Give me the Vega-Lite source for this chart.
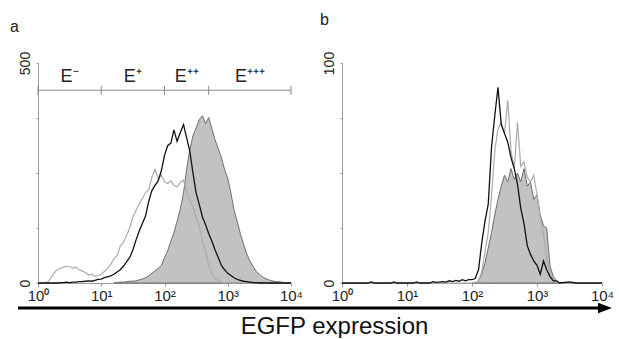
{
  "$schema": "https://vega.github.io/schema/vega-lite/v6.json",
  "background": "white",
  "padding": {"left": 10, "top": 12, "right": 0, "bottom": 0},
  "config": {
    "view": {"stroke": null},
    "font": "Liberation Sans",
    "axis": {"domainColor": "#9a9a9a", "tickColor": "#9a9a9a", "grid": false, "labelFont": "Liberation Sans", "labelFontSize": 15, "labelColor": "#222", "title": null}
  },
  "datasets": {
    "a_fill": [
      {"x":15.8,"n":0},{"x":17.8,"n":1},{"x":20,"n":2},{"x":22.4,"n":2},{"x":25.1,"n":3},{"x":28.2,"n":4},{"x":31.6,"n":4},{"x":35.5,"n":5},{"x":39.8,"n":7},{"x":44.7,"n":9},{"x":50.1,"n":12},{"x":56.2,"n":16},{"x":63.1,"n":22},{"x":70.8,"n":28},{"x":79.4,"n":33},{"x":89.1,"n":40},
      {"x":100,"n":58},{"x":112,"n":73},{"x":126,"n":95},{"x":141,"n":115},{"x":158,"n":140},{"x":178,"n":168},{"x":200,"n":205},{"x":224,"n":258},{"x":251,"n":302},{"x":282,"n":335},{"x":316,"n":352},{"x":355,"n":372},{"x":398,"n":380},{"x":447,"n":362},{"x":501,"n":376},{"x":562,"n":350},{"x":631,"n":325},{"x":708,"n":305},{"x":794,"n":285},{"x":891,"n":258},
      {"x":1000,"n":238},{"x":1120,"n":205},{"x":1260,"n":165},{"x":1410,"n":140},{"x":1580,"n":112},{"x":1780,"n":88},{"x":2000,"n":66},{"x":2240,"n":50},{"x":2510,"n":38},{"x":2820,"n":26},{"x":3160,"n":20},{"x":3550,"n":14},{"x":3980,"n":10},{"x":4470,"n":7},{"x":5010,"n":5},{"x":5620,"n":3},{"x":6310,"n":3},{"x":7080,"n":2},{"x":7940,"n":1},{"x":8910,"n":0},{"x":10000,"n":0}
    ],
    "a_light": [
      {"x":1,"n":0},{"x":1.12,"n":0},{"x":1.26,"n":0},{"x":1.41,"n":2},{"x":1.58,"n":10},{"x":1.78,"n":22},{"x":2,"n":30},{"x":2.24,"n":33},{"x":2.51,"n":36},{"x":2.82,"n":38},{"x":3.16,"n":37},{"x":3.55,"n":34},{"x":3.98,"n":36},{"x":4.47,"n":30},{"x":5.01,"n":27},{"x":5.62,"n":24},{"x":6.31,"n":18},{"x":7.08,"n":20},{"x":7.94,"n":15},{"x":8.91,"n":17},
      {"x":10,"n":20},{"x":11.2,"n":26},{"x":12.6,"n":34},{"x":14.1,"n":42},{"x":15.8,"n":55},{"x":17.8,"n":62},{"x":20,"n":84},{"x":22.4,"n":92},{"x":25.1,"n":108},{"x":28.2,"n":125},{"x":31.6,"n":150},{"x":35.5,"n":165},{"x":39.8,"n":180},{"x":44.7,"n":192},{"x":50.1,"n":205},{"x":56.2,"n":212},{"x":63.1,"n":240},{"x":70.8,"n":258},{"x":79.4,"n":238},{"x":89.1,"n":245},
      {"x":100,"n":230},{"x":112,"n":226},{"x":126,"n":232},{"x":141,"n":222},{"x":158,"n":218},{"x":178,"n":228},{"x":200,"n":234},{"x":224,"n":208},{"x":251,"n":190},{"x":282,"n":172},{"x":316,"n":150},{"x":355,"n":130},{"x":398,"n":95},{"x":447,"n":70},{"x":501,"n":40},{"x":562,"n":22},{"x":631,"n":10},{"x":708,"n":5},{"x":794,"n":2},{"x":891,"n":1},
      {"x":1000,"n":0},{"x":1580,"n":0},{"x":2510,"n":0},{"x":3980,"n":0},{"x":6310,"n":0},{"x":10000,"n":0}
    ],
    "a_black": [
      {"x":1,"n":0},{"x":1.26,"n":0},{"x":1.58,"n":0},{"x":2,"n":0},{"x":2.24,"n":1},{"x":2.51,"n":1},{"x":2.82,"n":2},{"x":3.16,"n":1},{"x":3.55,"n":2},{"x":3.98,"n":2},{"x":4.47,"n":3},{"x":5.01,"n":3},{"x":5.62,"n":4},{"x":6.31,"n":5},{"x":7.08,"n":4},{"x":7.94,"n":6},{"x":8.91,"n":8},
      {"x":10,"n":9},{"x":11.2,"n":12},{"x":12.6,"n":14},{"x":14.1,"n":16},{"x":15.8,"n":20},{"x":17.8,"n":25},{"x":20,"n":30},{"x":22.4,"n":38},{"x":25.1,"n":48},{"x":28.2,"n":58},{"x":31.6,"n":75},{"x":35.5,"n":98},{"x":39.8,"n":118},{"x":44.7,"n":135},{"x":50.1,"n":152},{"x":56.2,"n":185},{"x":63.1,"n":210},{"x":70.8,"n":222},{"x":79.4,"n":232},{"x":89.1,"n":255},
      {"x":100,"n":290},{"x":112,"n":312},{"x":126,"n":318},{"x":141,"n":348},{"x":158,"n":322},{"x":178,"n":342},{"x":200,"n":360},{"x":224,"n":330},{"x":251,"n":300},{"x":282,"n":250},{"x":316,"n":205},{"x":355,"n":178},{"x":398,"n":150},{"x":447,"n":132},{"x":501,"n":112},{"x":562,"n":95},{"x":631,"n":75},{"x":708,"n":58},{"x":794,"n":40},{"x":891,"n":30},
      {"x":1000,"n":22},{"x":1120,"n":17},{"x":1260,"n":12},{"x":1410,"n":8},{"x":1580,"n":6},{"x":1780,"n":4},{"x":2000,"n":3},{"x":2240,"n":2},{"x":2510,"n":1},{"x":2820,"n":1},{"x":3160,"n":0},{"x":5010,"n":0},{"x":10000,"n":0}
    ],
    "b_fill": [
      {"x":100,"n":0},{"x":112,"n":0},{"x":126,"n":1},{"x":141,"n":4},{"x":158,"n":9},{"x":178,"n":16},{"x":200,"n":23},{"x":224,"n":31},{"x":251,"n":38},{"x":282,"n":44},{"x":316,"n":49},{"x":355,"n":46},{"x":398,"n":52},{"x":447,"n":47},{"x":501,"n":50},{"x":562,"n":46},{"x":631,"n":52},{"x":708,"n":44},{"x":794,"n":46},{"x":891,"n":38},
      {"x":1000,"n":40},{"x":1120,"n":31},{"x":1260,"n":26},{"x":1410,"n":25},{"x":1580,"n":8},{"x":1780,"n":3},{"x":2000,"n":1},{"x":2240,"n":0}
    ],
    "b_light": [
      {"x":1,"n":0},{"x":10,"n":0},{"x":50.1,"n":0},{"x":100,"n":0},{"x":112,"n":0},{"x":126,"n":1},{"x":141,"n":5},{"x":158,"n":14},{"x":178,"n":23},{"x":200,"n":40},{"x":224,"n":60},{"x":251,"n":70},{"x":282,"n":73},{"x":316,"n":68},{"x":355,"n":83},{"x":398,"n":60},{"x":447,"n":52},{"x":501,"n":73},{"x":562,"n":53},{"x":631,"n":55},{"x":708,"n":48},{"x":794,"n":46},{"x":891,"n":49},
      {"x":1000,"n":40},{"x":1120,"n":30},{"x":1260,"n":22},{"x":1410,"n":11},{"x":1580,"n":5},{"x":1780,"n":2},{"x":2000,"n":1},{"x":2240,"n":0},{"x":10000,"n":0}
    ],
    "b_black": [
      {"x":1,"n":0},{"x":2.51,"n":0},{"x":2.82,"n":0.5},{"x":3.16,"n":0},{"x":5.62,"n":0},{"x":6.31,"n":0.5},{"x":7.08,"n":0},{"x":12.6,"n":0},{"x":14.1,"n":0.5},{"x":15.8,"n":0},{"x":22.4,"n":0},{"x":25.1,"n":0.6},{"x":28.2,"n":0.3},{"x":35.5,"n":0.6},{"x":39.8,"n":0.4},{"x":44.7,"n":1},{"x":50.1,"n":0.6},{"x":56.2,"n":1.2},{"x":63.1,"n":0.8},{"x":70.8,"n":1.5},{"x":79.4,"n":1},{"x":89.1,"n":1.5},
      {"x":100,"n":1.5},{"x":112,"n":2},{"x":126,"n":6},{"x":141,"n":18},{"x":158,"n":28},{"x":178,"n":36},{"x":200,"n":62},{"x":224,"n":76},{"x":251,"n":89},{"x":282,"n":72},{"x":316,"n":68},{"x":355,"n":64},{"x":398,"n":57},{"x":447,"n":52},{"x":501,"n":45},{"x":562,"n":34},{"x":631,"n":27},{"x":708,"n":17},{"x":794,"n":13},{"x":891,"n":10},
      {"x":1000,"n":8},{"x":1120,"n":4},{"x":1260,"n":10},{"x":1410,"n":6},{"x":1580,"n":3},{"x":1780,"n":1},{"x":2000,"n":1},{"x":2240,"n":0},{"x":3160,"n":0.5},{"x":3980,"n":0},{"x":10000,"n":0}
    ],
    "gate_line": [{"x":1,"x2":10000,"n":438}],
    "gate_ticks": [{"x":1,"n":428,"n2":448},{"x":10,"n":428,"n2":448},{"x":100,"n":428,"n2":448},{"x":500,"n":428,"n2":448},{"x":10000,"n":428,"n2":448}],
    "gate_labels": [{"x":3.16,"n":457,"label":"E⁻"},{"x":31.6,"n":457,"label":"E⁺"},{"x":224,"n":457,"label":"E⁺⁺"},{"x":2240,"n":457,"label":"E⁺⁺⁺"}],
    "arrow": [{"start":0,"end":0.99,"tip":1,"y":0}]
  },
  "vconcat": [
    {
      "hconcat": [
        {"width": 1, "height": 220, "data": {"values": []}, "mark": {"type": "rule"}, "encoding": {}},
        {
          "hconcat": [
            {
              "width": 253, "height": 220,
              "title": {"text": "a", "anchor": "start", "frame": "group", "dx": -28, "offset": 3, "baseline": "alphabetic", "fontSize": 16, "fontWeight": "normal", "font": "Liberation Sans", "color": "#222"},
              "layer": [
                {
                  "data": {"name": "a_fill"},
                  "mark": {"type": "area", "fill": "#c2c2c2", "stroke": "#6e6e6e", "strokeWidth": 1},
                  "encoding": {
                    "x": {"field": "x", "type": "quantitative", "scale": {"type": "log", "domain": [1, 10000], "nice": false},
                      "axis": {"values": [1, 10, 100, 1000, 10000], "labelExpr": "datum.value == 1 ? '10⁰' : datum.value == 10 ? '10¹' : datum.value == 100 ? '10²' : datum.value == 1000 ? '10³' : '10⁴'", "tickSize": 3, "labelPadding": 2, "labelDx": 3, "labelFlush": false, "labelOverlap": false, "labelBound": false}},
                    "y": {"field": "n", "type": "quantitative", "scale": {"domain": [0, 500], "nice": false},
                      "axis": {"values": [0, 125, 250, 375, 500], "labelExpr": "datum.value == 0 || datum.value == 500 ? datum.label : ''", "labelAngle": -90, "labelAlign": "center", "labelBaseline": "bottom", "labelFontSize": 14, "tickSize": 2, "labelPadding": 4, "labelFlush": false, "labelOverlap": false, "labelBound": false}}
                  }
                },
                {
                  "data": {"name": "a_light"},
                  "mark": {"type": "line", "color": "#ababab", "strokeWidth": 1.2},
                  "encoding": {"x": {"field": "x", "type": "quantitative"}, "y": {"field": "n", "type": "quantitative"}}
                },
                {
                  "data": {"name": "a_black"},
                  "mark": {"type": "line", "color": "#111", "strokeWidth": 1.3},
                  "encoding": {"x": {"field": "x", "type": "quantitative"}, "y": {"field": "n", "type": "quantitative"}}
                },
                {
                  "data": {"name": "gate_line"},
                  "mark": {"type": "rule", "color": "#8a8a8a", "strokeWidth": 1},
                  "encoding": {"x": {"field": "x", "type": "quantitative"}, "x2": {"field": "x2"}, "y": {"field": "n", "type": "quantitative"}}
                },
                {
                  "data": {"name": "gate_ticks"},
                  "mark": {"type": "rule", "color": "#8a8a8a", "strokeWidth": 1},
                  "encoding": {"x": {"field": "x", "type": "quantitative"}, "y": {"field": "n", "type": "quantitative"}, "y2": {"field": "n2"}}
                },
                {
                  "data": {"name": "gate_labels"},
                  "mark": {"type": "text", "fontSize": 18, "font": "Liberation Sans", "color": "#222", "align": "center", "baseline": "alphabetic"},
                  "encoding": {"x": {"field": "x", "type": "quantitative"}, "y": {"field": "n", "type": "quantitative"}, "text": {"field": "label"}}
                }
              ]
            },
            {
              "width": 260, "height": 220,
              "title": {"text": "b", "anchor": "start", "frame": "group", "dx": -22, "offset": 10, "baseline": "alphabetic", "fontSize": 16, "fontWeight": "normal", "font": "Liberation Sans", "color": "#222"},
              "layer": [
                {
                  "data": {"name": "b_fill"},
                  "mark": {"type": "area", "fill": "#c2c2c2", "stroke": "#6e6e6e", "strokeWidth": 1},
                  "encoding": {
                    "x": {"field": "x", "type": "quantitative", "scale": {"type": "log", "domain": [1, 10000], "nice": false},
                      "axis": {"values": [1, 10, 100, 1000, 10000], "labelExpr": "datum.value == 1 ? '10⁰' : datum.value == 10 ? '10¹' : datum.value == 100 ? '10²' : datum.value == 1000 ? '10³' : '10⁴'", "tickSize": 3, "labelPadding": 2, "labelDx": 3, "labelFlush": false, "labelOverlap": false, "labelBound": false}},
                    "y": {"field": "n", "type": "quantitative", "scale": {"domain": [0, 100], "nice": false},
                      "axis": {"values": [0, 25, 50, 75, 100], "labelExpr": "datum.value == 0 || datum.value == 100 ? datum.label : ''", "labelAngle": -90, "labelAlign": "center", "labelBaseline": "bottom", "labelFontSize": 14, "tickSize": 2, "labelPadding": 4, "labelFlush": false, "labelOverlap": false, "labelBound": false}}
                  }
                },
                {
                  "data": {"name": "b_light"},
                  "mark": {"type": "line", "color": "#ababab", "strokeWidth": 1.2},
                  "encoding": {"x": {"field": "x", "type": "quantitative"}, "y": {"field": "n", "type": "quantitative"}}
                },
                {
                  "data": {"name": "b_black"},
                  "mark": {"type": "line", "color": "#111", "strokeWidth": 1.3},
                  "encoding": {"x": {"field": "x", "type": "quantitative"}, "y": {"field": "n", "type": "quantitative"}}
                }
              ]
            }
          ],
          "spacing": 51,
          "bounds": "flush"
        }
      ],
      "spacing": 19,
      "bounds": "flush"
    },
    {
      "width": 594, "height": 10,
      "data": {"name": "arrow"},
      "layer": [
        {
          "mark": {"type": "rule", "color": "#000", "strokeWidth": 3},
          "encoding": {
            "x": {"field": "start", "type": "quantitative", "scale": {"domain": [0, 1], "nice": false},
              "axis": {"domain": false, "ticks": false, "labels": false, "title": "EGFP expression", "titleFontSize": 24, "titleFontWeight": "normal", "titleColor": "#111", "titleFont": "Liberation Sans", "titlePadding": 1, "titleX": 316}},
            "x2": {"field": "end"},
            "y": {"field": "y", "type": "quantitative", "scale": {"domain": [-1, 1]}, "axis": null}
          }
        },
        {
          "mark": {"type": "point", "shape": "M0,0L-3.5,-1.3L-3.5,1.3Z", "filled": true, "size": 64, "color": "#000", "opacity": 1, "strokeWidth": 0},
          "encoding": {
            "x": {"field": "tip", "type": "quantitative"},
            "y": {"field": "y", "type": "quantitative"}
          }
        }
      ]
    }
  ],
  "spacing": 240,
  "bounds": "flush"
}
